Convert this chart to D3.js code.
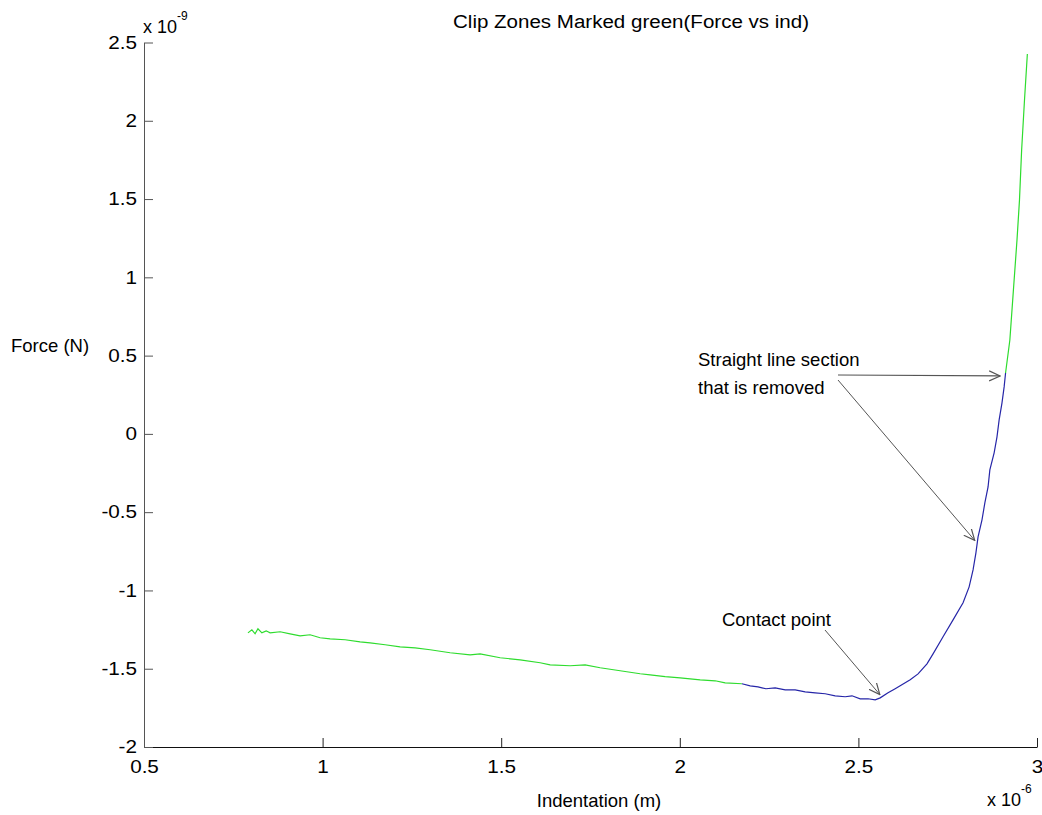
<!DOCTYPE html>
<html><head><meta charset="utf-8">
<script src="https://cdn.jsdelivr.net/npm/d3@7"></script>
<style>
html,body{margin:0;padding:0;background:#fff;}
text{font-family:"Liberation Sans",Arial,sans-serif;fill:#000;}
</style></head>
<body>
<svg id="c" width="1042" height="815"></svg>
<script>
// Indentation (x 1e-6 m) and Force (x 1e-9 N)
const greenApproachX = [0.791,0.802,0.811,0.819,0.830,0.842,0.853,0.881,0.909,0.937,0.965,0.993,1.021,1.063,1.105,1.133,1.175,1.217,1.259,1.301,1.357,1.413,1.441,1.497,1.553,1.609,1.637,1.693,1.735,1.777,1.833,1.889,1.917,1.959,2.001,2.057,2.099,2.127,2.174];
const greenApproachY = [-1.271,-1.252,-1.277,-1.245,-1.271,-1.258,-1.271,-1.264,-1.277,-1.290,-1.283,-1.302,-1.309,-1.315,-1.328,-1.335,-1.347,-1.360,-1.367,-1.379,-1.398,-1.411,-1.405,-1.430,-1.443,-1.462,-1.475,-1.481,-1.475,-1.494,-1.513,-1.532,-1.539,-1.551,-1.558,-1.571,-1.577,-1.590,-1.596];
const blueX = [2.174,2.197,2.219,2.241,2.267,2.295,2.323,2.351,2.379,2.407,2.435,2.463,2.482,2.505,2.527,2.547,2.561,2.583,2.603,2.617,2.645,2.667,2.692,2.709,2.737,2.765,2.793,2.810,2.821,2.829,2.835,2.846,2.854,2.863,2.868,2.880,2.888,2.894,2.902,2.908,2.912];
const blueY = [-1.596,-1.609,-1.616,-1.628,-1.622,-1.635,-1.635,-1.648,-1.654,-1.660,-1.673,-1.679,-1.673,-1.692,-1.692,-1.699,-1.686,-1.654,-1.628,-1.609,-1.571,-1.533,-1.469,-1.405,-1.296,-1.188,-1.079,-0.977,-0.869,-0.760,-0.658,-0.549,-0.441,-0.339,-0.230,-0.121,-0.019,0.089,0.198,0.300,0.389];
const greenTopX = [2.912,2.924,2.934,2.944,2.951,2.957,2.965,2.973];
const greenTopY = [0.389,0.600,0.920,1.239,1.495,1.814,2.133,2.427];
const xTicks = [0.5,1,1.5,2,2.5,3];
const yTicks = [-2,-1.5,-1,-0.5,0,0.5,1,1.5,2,2.5];
const titleText = "Clip Zones Marked green(Force vs ind)";
const xLabel = "Indentation (m)";
const yLabel = "Force (N)";
// annotation anchor points in data units
const annoStraight = {tx:2.051, ty:0.434, ends:[[2.908,0.37],[2.834,-0.68]]};
const annoContact = {tx:2.118, ty:-1.226, end:[2.56,-1.665]};

const svg = d3.select("#c");
const L=144, R=1037, T=42.5, B=747;
const x = d3.scaleLinear().domain([0.5,3]).range([L,R]);
const y = d3.scaleLinear().domain([-2,2.5]).range([B,T]);
const SX = 1.15; // horizontal stretch of the reference's tick text
const fmt = d => d3.format("~g")(d).replace("\u2212","-");

const defs = svg.append("defs");
defs.append("marker").attr("id","arr").attr("viewBox","0 0 12 12").attr("refX",11).attr("refY",6)
  .attr("markerWidth",12).attr("markerHeight",12).attr("markerUnits","userSpaceOnUse").attr("orient","auto")
  .append("path").attr("d","M0,1 L11,6 L0,11").attr("fill","none").attr("stroke","#555").attr("stroke-width",1.2);

// axes
const xAxis = d3.axisBottom(x).tickValues(xTicks).tickSizeInner(-9).tickSizeOuter(0).tickPadding(18).tickFormat(fmt);
const gx = svg.append("g").attr("transform",`translate(0,${B})`).call(xAxis);
gx.select(".domain").attr("stroke","#111");
gx.selectAll(".tick line").attr("stroke","#222");
gx.selectAll("text").attr("font-size",18).attr("font-family","Liberation Sans, Arial, sans-serif").attr("fill","#000")
  .attr("dy","0.45em").attr("transform",`scale(${SX},1)`);

const yAxis = d3.axisLeft(y).tickValues(yTicks).tickSizeInner(-9).tickSizeOuter(0).tickPadding(7).tickFormat(fmt);
const gy = svg.append("g").attr("transform",`translate(${L},0)`).call(yAxis);
gy.select(".domain").attr("stroke","#555");
gy.selectAll(".tick line").attr("stroke","#555");
gy.selectAll("text").attr("font-size",18).attr("font-family","Liberation Sans, Arial, sans-serif").attr("fill","#000")
  .attr("x",-7/SX).attr("transform",`scale(${SX},1)`);

// exponent labels
const e1 = svg.append("text").attr("x",143).attr("y",33).attr("font-size",18);
e1.append("tspan").text("x 10");
e1.append("tspan").attr("dy",-13).attr("font-size",12).text("-9");
const e2 = svg.append("text").attr("x",987).attr("y",806).attr("font-size",18);
e2.append("tspan").text("x 10");
e2.append("tspan").attr("dy",-13).attr("font-size",12).text("-6");

// titles
svg.append("text").attr("x",631).attr("y",28).attr("text-anchor","middle").attr("font-size",18)
  .attr("textLength",356).attr("lengthAdjust","spacingAndGlyphs").text(titleText);
svg.append("text").attr("x",599).attr("y",807).attr("text-anchor","middle").attr("font-size",18.5).text(xLabel);
svg.append("text").attr("x",11).attr("y",352).attr("font-size",18.5).text(yLabel);

// lines
const line = d3.line().x(d=>x(d[0])).y(d=>y(d[1]));
const seg = (xs,ys)=>xs.map((v,i)=>[v,ys[i]]);
svg.append("path").datum(seg(greenApproachX,greenApproachY)).attr("d",line).attr("fill","none").attr("stroke","#2edc2e").attr("stroke-width",1.2);
svg.append("path").datum(seg(blueX,blueY)).attr("d",line).attr("fill","none").attr("stroke","#2626a8").attr("stroke-width",1.2);
svg.append("path").datum(seg(greenTopX,greenTopY)).attr("d",line).attr("fill","none").attr("stroke","#2edc2e").attr("stroke-width",1.2);

// annotations
const a1 = svg.append("text").attr("x",x(annoStraight.tx)).attr("y",y(annoStraight.ty)).attr("font-size",18.5);
a1.append("tspan").attr("x",x(annoStraight.tx)).text("Straight line section");
a1.append("tspan").attr("x",x(annoStraight.tx)).attr("dy",28).text("that is removed");
svg.append("line").attr("x1",838).attr("y1",375).attr("x2",x(annoStraight.ends[0][0])-4).attr("y2",y(annoStraight.ends[0][1]))
  .attr("stroke","#555").attr("stroke-width",1.2).attr("marker-end","url(#arr)");
svg.append("line").attr("x1",838).attr("y1",380).attr("x2",x(annoStraight.ends[1][0])-3).attr("y2",y(annoStraight.ends[1][1]))
  .attr("stroke","#555").attr("stroke-width",1).attr("marker-end","url(#arr)");
svg.append("text").attr("x",x(annoContact.tx)).attr("y",y(annoContact.ty)).attr("font-size",18.5).text("Contact point");
svg.append("line").attr("x1",825).attr("y1",630).attr("x2",x(annoContact.end[0])).attr("y2",y(annoContact.end[1]))
  .attr("stroke","#555").attr("stroke-width",1).attr("marker-end","url(#arr)");
</script>
</body></html>
